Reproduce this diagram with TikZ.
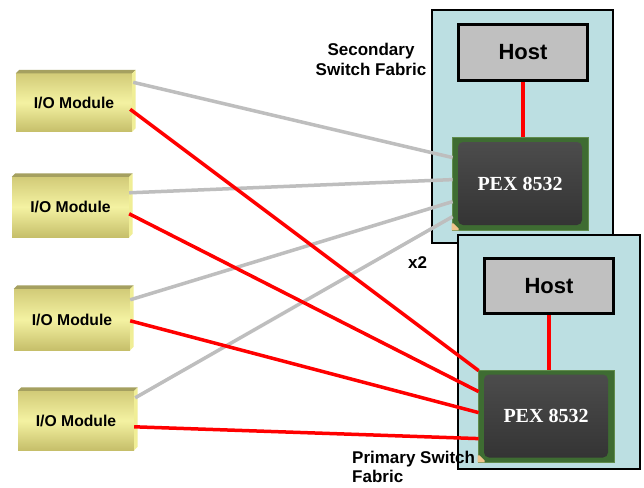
\documentclass[tikz,border=0pt]{standalone}
\usepackage{fontspec}
\setmainfont{Liberation Sans}
\newfontfamily\pexfont{Liberation Serif}
\usetikzlibrary{calc}
\definecolor{panelblue}{RGB}{188,223,226}
\definecolor{hostgray}{RGB}{192,192,192}
\definecolor{linegray}{RGB}{190,190,190}
\definecolor{linered}{RGB}{255,0,0}
\definecolor{modtop}{RGB}{165,160,96}
\definecolor{modside}{RGB}{240,238,150}
\definecolor{modfacetop}{RGB}{210,203,120}
\definecolor{modfacemid}{RGB}{244,242,162}
\definecolor{modfacebot}{RGB}{198,191,106}
\definecolor{chipgreen}{RGB}{62,108,50}
\definecolor{chipedge}{RGB}{96,140,76}
\definecolor{chipcoretop}{RGB}{76,76,76}
\definecolor{chipcorebot}{RGB}{52,52,52}
\definecolor{chipcorner}{RGB}{240,196,140}
\tikzset{
  panel/.style={draw=black, line width=1.3pt, fill=panelblue, inner sep=0pt},
  hostbox/.style={draw=black, line width=3pt, fill=hostgray, inner sep=0pt,
    minimum width=129, minimum height=56, font=\bfseries\fontsize{22}{26}\selectfont},
  chipbody/.style={fill=chipgreen, draw=chipedge, line width=0.8pt, inner sep=0pt,
    minimum width=136, minimum height=92},
  chipcore/.style={rounded corners=5pt, top color=chipcoretop, bottom color=chipcorebot,
    inner sep=0pt, minimum width=124, minimum height=83, text=white,
    font=\pexfont\bfseries\fontsize{20}{24}\selectfont},
  iomod/.style={inner sep=0pt, minimum width=116, minimum height=59,
    top color=modfacetop, bottom color=modfacebot, middle color=modfacemid,
    font=\bfseries\fontsize{15.7}{18}\selectfont},
  bevtop/.style={fill=modtop},
  bevside/.style={fill=modside},
  grayline/.style={draw=linegray, line width=3.5pt},
  redline/.style={draw=linered, line width=3.5pt},
  hostlink/.style={draw=linered, line width=4pt},
  lbl/.style={inner sep=0pt, font=\bfseries\fontsize{17}{20}\selectfont}
}
\newcommand{\iobevel}[1]{%
  \fill[bevtop] (#1.north west) -- ++(3.5,-3.5) -- ($(#1.north east)+(3.5,-3.5)$) -- (#1.north east) -- cycle;
  \fill[bevside] (#1.north east) -- ++(3.5,-3.5) -- ($(#1.south east)+(3.5,-3.5)$) -- (#1.south east) -- cycle;
}
\newcommand{\chipcornermark}[1]{%
  \fill[chipcorner] (#1.south west) -- ++(7,0) -- ++(0,-2) -- ++(-5,-5) -- ++(-2,0) -- cycle;
}
\begin{document}
\begin{tikzpicture}[x=1pt,y=-1pt]
\useasboundingbox[fill=white] (0,0) rectangle (644,487);

% secondary switch fabric
\node[panel, minimum width=181, minimum height=233] (panS) at (522.5,126.5) {};
\node[hostbox] (hostS) at (523,52.5) {Host};
\node[chipbody, minimum height=93] (chipS) at (520,183.5) {};
\node[chipcore] (coreS) at (chipS.center) {PEX 8532};
\chipcornermark{chipS}
\draw[hostlink] (hostS.south) -- (hostS.south |- chipS.north);

% primary switch fabric
\node[panel, minimum width=182, minimum height=234] (panP) at (549,352) {};
\node[hostbox, minimum height=55] (hostP) at (549,286) {Host};
\node[chipbody] (chipP) at (546,416) {};
\node[chipcore] (coreP) at (chipP.center) {PEX 8532};
\chipcornermark{chipP}
\draw[hostlink] (hostP.south) -- (hostP.south |- chipP.north);

% I/O modules
\node[iomod, minimum height=58] (m1) at (74,102.5) {I/O Module};
\iobevel{m1}
\node[iomod, minimum width=117, minimum height=60] (m2) at (70.5,207) {I/O Module};
\iobevel{m2}
\node[iomod, minimum height=61] (m3) at (72,319.5) {I/O Module};
\iobevel{m3}
\node[iomod] (m4) at (76,420.5) {I/O Module};
\iobevel{m4}

% connectors to secondary
\draw[grayline] ($(m1.north east)+(1,9)$) -- ($(chipS.north west)+(1,21)$);
\draw[grayline] ($(m2.north east)+(0,16)$) -- ($(chipS.north west)+(1,43)$);
\draw[grayline] ($(m3.north east)+(0,11)$) -- ($(chipS.north west)+(1,65)$);
\draw[grayline] ($(m4.north east)+(1,7)$) -- ($(chipS.north west)+(1,80)$);

% connectors to primary
\draw[redline] ($(m1.north east)+(-2,36)$) -- ($(chipP.north west)+(1,1)$);
\draw[redline] ($(m2.north east)+(0,37)$) -- ($(chipP.north west)+(1,22)$);
\draw[redline] ($(m3.north east)+(0,32)$) -- ($(chipP.north west)+(1,43)$);
\draw[redline] ($(m4.north east)+(0,36)$) -- ($(chipP.north west)+(1,69)$);

% labels
\node[lbl, align=center] (labS) at (371,59) {Secondary\\Switch Fabric};
\node[lbl, anchor=base west] (labx) at (408,268) {x2};
\node[lbl, align=left, anchor=north west, font=\bfseries\fontsize{17}{19}\selectfont] (labP) at (352,451) {Primary Switch\\Fabric};
\end{tikzpicture}
\end{document}
